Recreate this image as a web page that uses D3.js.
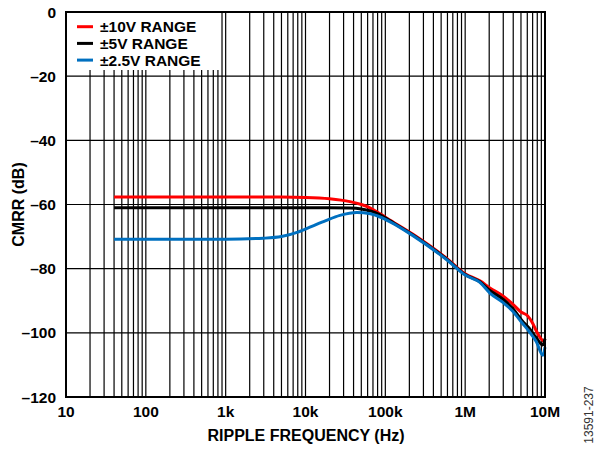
<!DOCTYPE html>
<html>
<head>
<meta charset="utf-8">
<script src="https://cdn.jsdelivr.net/npm/d3@7"></script>
<style>
  body { margin: 0; background: #fff; }
  text { font-family: "Liberation Sans", Arial, sans-serif; }
</style>
</head>
<body>
<svg id="chart" width="600" height="452"></svg>
<script>
// frequency (Hz) / CMRR (dB)
let freqTop = [40, 1000, 5000, 10000, 20000, 36000, 50000, 65000, 86000, 115000, 222000, 593000, 1000000, 1530000, 2040000, 3000000, 4000000, 5000000, 6000000, 7000000, 8000000, 9000000, 10000000]
let range10V = [-57.7, -57.7, -57.7, -57.8, -58.2, -59.1, -60.0, -61.1, -62.9, -64.9, -69.3, -76.9, -81.6, -83.8, -86.0, -88.6, -91.2, -93.5, -94.6, -97.0, -100.0, -102.0, -102.8]

let freq5V = [40, 1000, 10000, 20000, 36000, 50000, 65000, 86000, 115000, 222000, 593000, 1000000, 1530000, 2040000, 3000000, 4000000, 5200000, 6300000, 7800000, 9400000, 10000000]
let range5V = [-61.0, -61.0, -61.0, -61.0, -61.1, -61.4, -62.0, -63.2, -65.1, -69.5, -77.1, -81.8, -84.1, -86.8, -89.6, -92.6, -96.3, -98.5, -101.6, -103.8, -101.8]

let freq2V = [40, 1000, 3000, 5000, 8000, 12000, 18000, 27000, 44000, 65000, 86000, 115000, 222000, 593000, 1000000, 1530000, 2040000, 3000000, 4000000, 5200000, 6300000, 7800000, 9400000, 10000000]
let range2V = [-70.8, -70.8, -70.5, -70.0, -68.6, -66.8, -65.0, -63.4, -62.5, -62.9, -63.9, -65.4, -69.7, -77.3, -82.0, -84.3, -87.6, -90.6, -93.4, -97.0, -99.5, -102.8, -107.0, -104.5]

let xTicks = [10, 100, 1000, 10000, 100000, 1000000, 10000000]
let xTickLabels = ["10", "100", "1k", "10k", "100k", "1M", "10M"]
let yTicks = [0, -20, -40, -60, -80, -100, -120]

let seriesNames = ["±10V RANGE", "±5V RANGE", "±2.5V RANGE"]
let seriesColors = ["#ff0000", "#000000", "#0070c0"]

let svg = d3.select("#chart")
let plotL = 66, plotR = 545, plotT = 12, plotB = 397

let x = d3.scaleLog().domain([10, 1e7]).range([plotL, plotR])
let y = d3.scaleLinear().domain([-120, 0]).range([plotB, plotT])

// minor + major vertical grid
let gridFreqs = []
for (let d = 10; d < 1e7; d *= 10) {
    for (let k = 1; k <= 9; k++) gridFreqs.push(d * k)
}
gridFreqs.push(1e7)

let grid = svg.append("g")
grid.selectAll("line.v")
    .data(gridFreqs)
    .enter()
    .append("line")
    .attr("x1", d => x(d)).attr("x2", d => x(d))
    .attr("y1", plotT).attr("y2", plotB)
    .attr("stroke", "#000")
    .attr("stroke-width", 1.2)
grid.selectAll("line.h")
    .data(yTicks)
    .enter()
    .append("line")
    .attr("x1", plotL).attr("x2", plotR)
    .attr("y1", d => y(d)).attr("y2", d => y(d))
    .attr("stroke", "#000")
    .attr("stroke-width", 1.2)

// white box behind legend
svg.append("rect")
    .attr("x", plotL + 1).attr("y", plotT + 1)
    .attr("width", 153).attr("height", 57)
    .attr("fill", "#fff")

// curves
let line = d3.line()
    .x(d => x(d[0]))
    .y(d => y(d[1]))
    .curve(d3.curveMonotoneX)

let allSeries = [
    d3.zip(freqTop, range10V),
    d3.zip(freq5V, range5V),
    d3.zip(freq2V, range2V)
]
allSeries.forEach((s, i) => {
    svg.append("path")
        .datum(s)
        .attr("d", line)
        .attr("fill", "none")
        .attr("stroke", seriesColors[i])
        .attr("stroke-width", 3)
        .attr("stroke-linejoin", "round")
})

// frame
svg.append("rect")
    .attr("x", plotL).attr("y", plotT)
    .attr("width", plotR - plotL).attr("height", plotB - plotT)
    .attr("fill", "none")
    .attr("stroke", "#000")
    .attr("stroke-width", 2)

// legend
let legend = svg.append("g")
seriesNames.forEach((name, i) => {
    let ly = 26.7 + i * 16.7
    legend.append("line")
        .attr("x1", 77).attr("x2", 93)
        .attr("y1", ly).attr("y2", ly)
        .attr("stroke", seriesColors[i])
        .attr("stroke-width", 3)
    legend.append("text")
        .attr("x", 100).attr("y", ly + 5.5)
        .attr("font-size", 15.5).attr("font-weight", "bold")
        .text(name)
})

// tick labels
svg.selectAll("text.xt")
    .data(xTicks)
    .enter()
    .append("text")
    .attr("x", d => x(d))
    .attr("y", 417)
    .attr("text-anchor", "middle")
    .attr("font-size", 15.5).attr("font-weight", "bold")
    .text((d, i) => xTickLabels[i])

svg.selectAll("text.yt")
    .data(yTicks)
    .enter()
    .append("text")
    .attr("x", 56)
    .attr("y", d => y(d) + 5.5)
    .attr("text-anchor", "end")
    .attr("font-size", 15.5).attr("font-weight", "bold")
    .text(d => d < 0 ? "–" + Math.abs(d) : d)

// axis titles
svg.append("text")
    .attr("x", 306)
    .attr("y", 441)
    .attr("text-anchor", "middle")
    .attr("font-size", 16).attr("font-weight", "bold")
    .text("RIPPLE FREQUENCY (Hz)")

svg.append("text")
    .attr("transform", "translate(24," + ((plotT + plotB) / 2) + ") rotate(-90)")
    .attr("text-anchor", "middle")
    .attr("font-size", 16).attr("font-weight", "bold")
    .text("CMRR (dB)")

svg.append("text")
    .attr("transform", "translate(593,415) rotate(-90)")
    .attr("text-anchor", "middle")
    .attr("font-size", 12)
    .attr("fill", "#333")
    .text("13591-237")
</script>
</body>
</html>
